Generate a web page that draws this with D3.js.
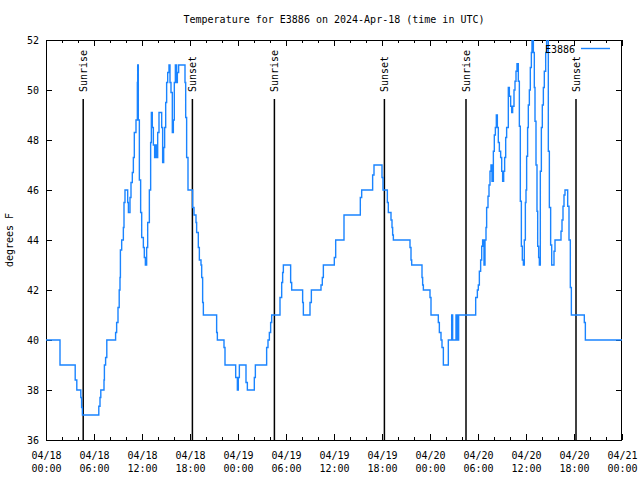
<!DOCTYPE html>
<html>
<head>
<meta charset="utf-8">
<script src="https://cdn.jsdelivr.net/npm/d3@7"></script>
<style>
  html, body { margin: 0; padding: 0; background: #fff; }
  text { font-family: "DejaVu Sans Mono", "Liberation Mono", monospace; font-size: 10px; fill: #000; }
</style>
</head>
<body>
<svg id="chart" width="640" height="480"></svg>
<script>
// ---------- data ----------
const chartTitle = "Temperature for E3886 on 2024-Apr-18 (time in UTC)";
const seriesName = "E3886";
const yAxisLabel = "degrees F";
const startUTC = Date.UTC(2024, 3, 18, 0, 0);
// hours since 2024-04-18 00:00 UTC
const hours = [
  0,1.58,1.75,3.58,3.65,3.85,4.25,4.35,4.45,4.55,6.55,6.6,6.75,6.85,7.15,7.25,7.3,7.45,7.6,8.6,8.7,8.83,9.0,9.15,9.25,9.3,9.46,9.67,9.75,9.875,
  10.17,10.21,10.3,10.375,10.5,10.625,10.79,10.92,11.04,11.25,11.42,11.46,11.5,11.54,11.67,11.83,11.96,12.17,12.29,12.42,12.58,12.71,12.92,
  13.08,13.17,13.29,13.42,13.58,13.71,13.83,13.96,14.125,14.33,14.46,14.58,14.71,14.83,14.96,15.08,15.21,15.375,15.5,15.625,15.79,15.92,
  16.04,16.17,16.33,16.42,16.58,17.29,17.375,17.46,17.58,17.75,18.08,18.33,18.5,18.75,18.83,19.04,19.17,19.375,19.46,19.58,19.67,
  21.2,21.33,21.42,22.17,22.25,22.375,23.58,23.71,23.92,24.04,24.17,24.875,25.0,25.17,25.92,26.04,26.17,27.42,27.58,27.75,27.92,28.08,28.21,
  29.17,29.25,29.46,29.58,29.67,30.42,30.58,30.71,31.96,32.08,32.17,32.92,33.0,33.17,34.25,34.375,34.54,34.67,35.92,36.04,36.21,37.17,37.25,
  39.17,39.29,39.46,40.71,40.83,41.0,41.875,42.0,42.125,42.58,42.67,42.79,43.125,43.25,43.33,43.42,45.42,45.5,45.625,45.71,46.875,47.0,47.08,
  47.17,47.92,48.0,48.125,48.92,49.04,49.17,49.375,49.5,49.67,50.21,50.29,50.5,50.71,50.83,51.125,51.25,51.42,51.58,53.625,
  53.71,53.92,54.04,54.17,54.33,54.46,54.58,54.75,54.875,55.0,55.08,55.25,55.375,55.5,55.625,55.75,55.92,56.04,56.17,56.29,56.42,56.54,56.67,
  56.83,56.96,57.08,57.21,57.33,57.46,57.58,57.79,57.92,58.08,58.21,58.33,58.5,58.625,58.75,58.875,59.04,59.17,59.29,59.42,59.54,59.67,59.79,
  59.92,60.0,60.08,60.2,60.29,60.42,60.54,60.67,60.75,60.83,60.92,61.04,61.125,61.25,61.375,61.46,61.58,61.67,61.79,61.92,62.04,62.17,62.29,
  62.46,62.58,62.67,62.79,62.92,63.08,63.21,63.375,63.5,63.625,64.25,64.375,64.5,64.625,64.75,64.875,65.08,65.21,65.375,65.54,65.67,
  67.17,67.29,67.42,72
];
const tempsF = [
  40,40,39,39,38.4,38,38,37.7,37.3,37,37,37.35,37.7,38,38,38.4,39,39.3,40,40,40.3,40.7,41.3,42,42.5,43.6,44,44.5,45.5,46,
  46,45.5,45.1,45.1,45.7,46.3,46.7,47.3,48.3,48.8,50.3,51,51,48.8,46.4,45.1,44.1,43.7,43.3,43,43.7,44.7,46,
  47.9,49.1,48.5,47.8,47.3,47.8,47.3,48.3,49.1,49.1,48.5,47.1,47.7,48.5,49.5,50.3,50.7,51,50.3,49.9,48.3,48.8,
  50.3,51,50.3,50.7,51,51,50.3,48.9,47.3,46,46,45.3,45,44.7,44.3,43.7,43.2,43,42.5,41.5,41,
  41,40.3,40,40,39.7,39,39,38.5,38,38.5,39,39,38.3,38,38,38.5,39,39,39.7,40,40.3,40.7,41,
  41,41.7,42.3,42.7,43,43,42.3,42,42,41.5,41,41,41.5,42,42,42.2,42.5,43,43,43.3,44,44,45,
  45,45.7,46,46,46.6,47,47,46.5,46,46,45.5,45.1,44.8,44.5,44.2,44,44,43.7,43.2,43,43,42.5,42.2,
  42,42,41.7,41,41,40.7,40.3,40,39.7,39,39,40,40,41,40,40,41,40,41,41,
  41.7,42,42.2,42.75,43.2,43.75,44,43,44,44.5,45.3,45.75,46.2,46.75,47,46.35,47.55,48.2,48.5,49,48.5,47.9,47.55,
  47.3,46.75,46.35,46.75,47.3,48.1,48.5,50.1,49.75,49.35,49.1,49.35,50,50.35,50.75,51.05,50.35,48.55,45.55,43.75,43.2,43,44,
  45.5,46,47.35,48.5,49.4,50,50.9,51.5,53,53,51.5,50.1,48.75,47,45.15,43.75,43.3,43,46.75,48.5,49.4,50.1,50.75,
  51.5,53,53,47.55,45.3,43.8,43,43,43.55,44,44,44.35,44.8,45.35,45.8,46,46,45.35,44,42.1,41,
  41,40.7,40,40
];
const sunriseHours = [4.65, 28.55, 52.5];
const sunsetHours = [18.3, 42.3, 66.25];
const yTickValues = [36, 38, 40, 42, 44, 46, 48, 50, 52];
const yDomain = [36, 52];
const xTickDates = ["04/18","04/18","04/18","04/18","04/19","04/19","04/19","04/19","04/20","04/20","04/20","04/20","04/21"];
const xTickTimes = ["00:00","06:00","12:00","18:00","00:00","06:00","12:00","18:00","00:00","06:00","12:00","18:00","00:00"];

// ---------- layout ----------
const W = 640, H = 480;
const m = { left: 46, right: 18, top: 40, bottom: 40 };
const pw = W - m.left - m.right, ph = H - m.top - m.bottom;
const toDate = h => new Date(startUTC + h * 3600 * 1000);

const x = d3.scaleUtc().domain([toDate(0), toDate(72)]).range([m.left, m.left + pw]);
const y = d3.scaleLinear().domain(yDomain).range([m.top + ph, m.top]);

const svg = d3.select("#chart");

svg.append("defs").append("clipPath").attr("id", "plotclip")
  .append("rect").attr("x", m.left).attr("y", m.top).attr("width", pw).attr("height", ph);

// title
svg.append("text").attr("x", m.left + pw / 2).attr("y", 23).attr("text-anchor", "middle").text(chartTitle);

// y label
svg.append("text").attr("transform", `translate(13,${m.top + ph / 2}) rotate(-90)`)
  .attr("text-anchor", "middle").text(yAxisLabel);

// axes
const majorTicks = d3.range(0, 73, 6).map(toDate);
const minorTicks = d3.range(0, 73, 2).filter(h => h % 6 !== 0).map(toDate);

function styleAxis(g) {
  g.select(".domain").remove();
  g.selectAll("line").attr("stroke", "#000").attr("stroke-width", 1);
}

// bottom major with labels
const gx = svg.append("g").attr("transform", `translate(0,${m.top + ph})`)
  .call(d3.axisBottom(x).tickValues(majorTicks).tickSize(-6).tickPadding(0).tickFormat((d, i) => ""));
styleAxis(gx);
gx.selectAll(".tick text").each(function(d, i) {
  const t = d3.select(this).attr("y", 0).attr("dy", null);
  t.append("tspan").attr("x", 0).attr("y", 19).text(xTickDates[i]);
  t.append("tspan").attr("x", 0).attr("y", 32).text(xTickTimes[i]);
}).style("font-family", '"DejaVu Sans Mono", monospace').style("font-size", "10px");
svg.append("g").attr("transform", `translate(0,${m.top + ph})`)
  .call(d3.axisBottom(x).tickValues(minorTicks).tickSize(-3).tickFormat(""))
  .call(styleAxis);
// top mirror
svg.append("g").attr("transform", `translate(0,${m.top})`)
  .call(d3.axisTop(x).tickValues(majorTicks).tickSize(-6).tickFormat(""))
  .call(styleAxis);
svg.append("g").attr("transform", `translate(0,${m.top})`)
  .call(d3.axisTop(x).tickValues(minorTicks).tickSize(-3).tickFormat(""))
  .call(styleAxis);
// left
const gy = svg.append("g").attr("transform", `translate(${m.left},0)`)
  .call(d3.axisLeft(y).tickValues(yTickValues).tickSize(-6).tickPadding(6).tickFormat(d3.format("d")));
styleAxis(gy);
gy.selectAll(".tick text").attr("x", -7)
  .style("font-family", '"DejaVu Sans Mono", monospace').style("font-size", "10px");
// right mirror
svg.append("g").attr("transform", `translate(${m.left + pw},0)`)
  .call(d3.axisRight(y).tickValues(yTickValues).tickSize(-6).tickFormat(""))
  .call(styleAxis);

// frame
svg.append("rect").attr("x", m.left + 0.5).attr("y", m.top + 0.5).attr("width", pw - 1).attr("height", ph)
  .attr("fill", "none").attr("stroke", "#000").attr("stroke-width", 1);

// sunrise / sunset markers
const events = sunriseHours.map(h => ({ h, label: "Sunrise" }))
  .concat(sunsetHours.map(h => ({ h, label: "Sunset" })));
const ev = svg.append("g").selectAll("g").data(events).join("g");
ev.append("line")
  .attr("x1", d => x(toDate(d.h))).attr("x2", d => x(toDate(d.h)))
  .attr("y1", 99).attr("y2", m.top + ph)
  .attr("stroke", "#000").attr("stroke-width", 1.5);
ev.append("text")
  .attr("transform", d => `translate(${x(toDate(d.h)) + 4},92) rotate(-90)`)
  .attr("text-anchor", "start").text(d => d.label);

// data line
const data = hours.map((h, i) => ({ t: toDate(h), v: tempsF[i] }));
svg.append("path").datum(data)
  .attr("clip-path", "url(#plotclip)")
  .attr("fill", "none").attr("stroke", "#1a84ff").attr("stroke-width", 1.4)
  .attr("stroke-linejoin", "miter")
  .attr("d", d3.line().curve(d3.curveStepAfter).x(d => x(d.t)).y(d => y(d.v)));

// legend
svg.append("text").attr("x", 575).attr("y", 53).attr("text-anchor", "end").text(seriesName);
svg.append("line").attr("x1", 581).attr("x2", 610).attr("y1", 48.5).attr("y2", 48.5)
  .attr("stroke", "#1a84ff").attr("stroke-width", 1.4);
</script>
</body>
</html>
